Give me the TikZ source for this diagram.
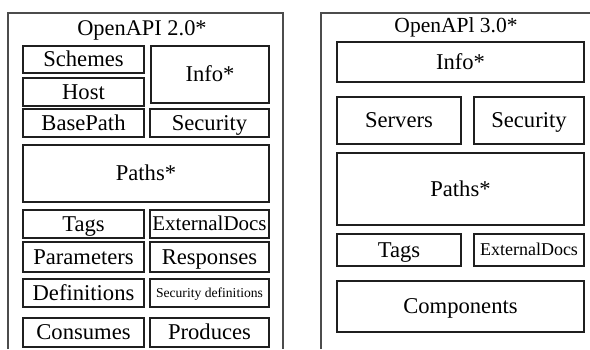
\documentclass[tikz,border=0pt]{standalone}
\usepackage{fontspec}
\setmainfont{Liberation Serif}
\tikzset{
  frame/.style={draw=black!70, line width=1.5pt},
  box/.style={draw=black!88, line width=1.2pt, rectangle, inner sep=0pt, text depth=0pt},
  title/.style={inner sep=0pt, text depth=0pt},
}
% font of the given size, with text height set to its cap height
\tikzset{fsize/.style={font=\fontsize{#1}{#1}\selectfont, text height={0.662*#1 pt}}}
% \bx[size]{name}{x1}{y1}{x2}{y2}{label}
\newcommand{\bx}[7][22.6]{%
  \pgfmathsetmacro{\bw}{#5-#3}\pgfmathsetmacro{\bh}{#6-#4}%
  \node[box, fsize=#1, minimum width=\bw pt, minimum height=\bh pt]
    (#2) at ({(#3+#5)/2},{(#4+#6)/2}) {#7};}
\begin{document}
\begin{tikzpicture}[x=1pt, y=-1pt]
\useasboundingbox (0,0) rectangle (590,349);

% OpenAPI 2.0 container (open at the bottom)
\draw[frame] (8,349) -- (8,13) -- (283,13) -- (283,349);
\node[title, fsize=22.4] (t2) at (142,28.5) {OpenAPI 2.0*};
\bx{schemes}{23}{46}{144}{73}{Schemes}
\bx{host}{23}{78}{144}{106}{Host}
\bx{info2}{151}{46}{269}{103}{Info*}
\bx{basepath}{23}{109}{144}{137}{BasePath}
\bx{security2}{150}{109}{269}{137}{Security}
\bx{paths2}{23}{145}{269}{202}{Paths*}
\bx{tags2}{23}{210}{144}{238}{Tags}
\bx[21]{extdocs2}{150}{210}{269}{238}{ExternalDocs}
\bx{parameters}{23}{242}{144}{272}{Parameters}
\bx{responses}{150}{242}{269}{272}{Responses}
\bx{definitions}{23}{279}{144}{307}{Definitions}
\bx[13.6]{secdefs}{150}{279}{269}{307}{Security definitions}
\bx{consumes}{23}{318}{144}{347}{Consumes}
\bx{produces}{150}{318}{269}{347}{Produces}

% OpenAPI 3.0 container (open at the bottom and right)
\draw[frame] (321,349) -- (321,13) -- (590,13);
\node[title, fsize=21.5] (t3) at (456,25) {OpenAPl 3.0*};
\bx{info3}{337}{42}{584}{82}{Info*}
\bx{servers}{337}{97}{461}{144}{Servers}
\bx{security3}{474}{97}{584}{144}{Security}
\bx{paths3}{337}{153}{584}{225}{Paths*}
\bx{tags3}{337}{234}{461}{266}{Tags}
\bx[18]{extdocs3}{474}{234}{584}{266}{ExternalDocs}
\bx{components}{337}{281}{584}{332}{Components}
\end{tikzpicture}
\end{document}
